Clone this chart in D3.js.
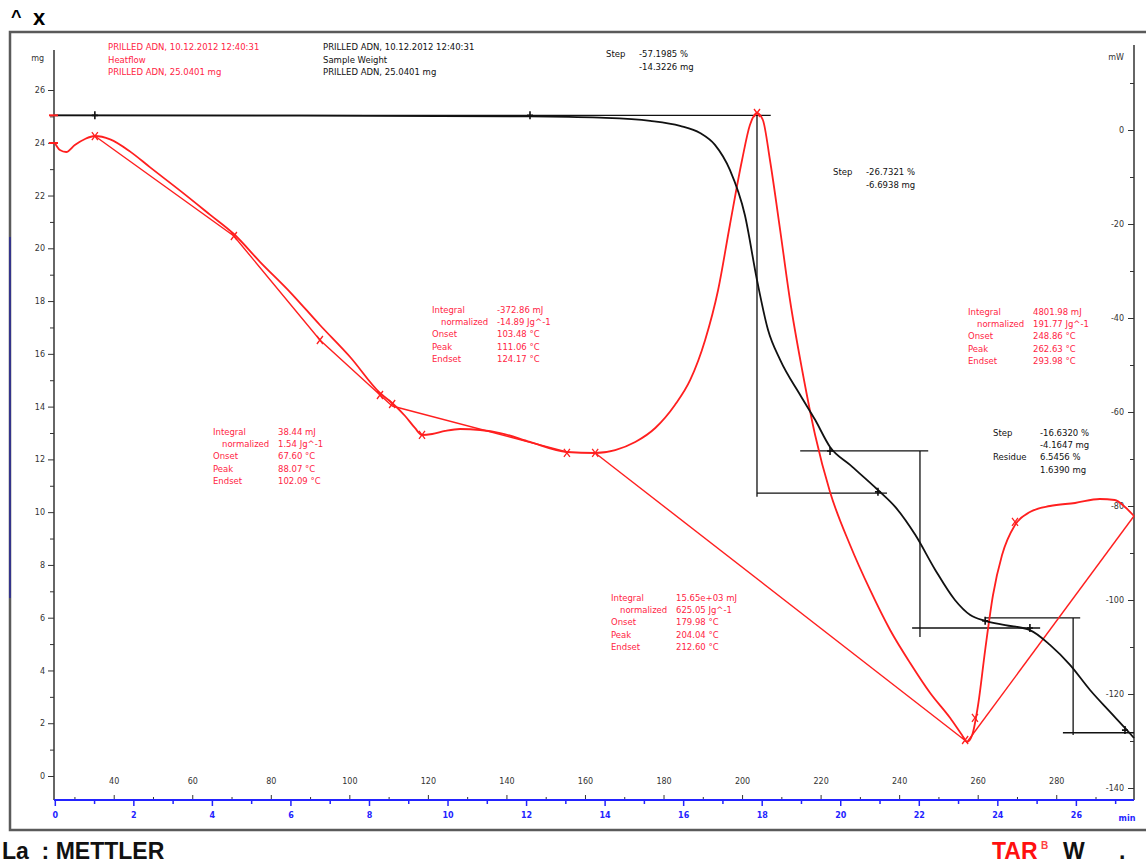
<!DOCTYPE html>
<html>
<head>
<meta charset="utf-8">
<script src="https://cdn.jsdelivr.net/npm/d3@7"></script>
<style>
body { margin: 0; background: #fff; }
text { font-family: "DejaVu Sans", Verdana, sans-serif; }
</style>
</head>
<body>
<svg id="grafico" width="1146" height="865"></svg>
<script>
// curva TGA (Sample Weight) - tempo em min, massa em mg
const tgaTempo = [0, 6.24, 12.10, 13.88, 15.16, 15.92, 16.43, 16.81, 17.19, 17.57, 17.88, 18.16, 18.47, 18.98, 19.36, 19.74, 20.25, 20.96, 21.40, 21.91, 22.42, 22.92, 23.31, 23.69, 24.20, 24.83, 25.34, 25.85, 26.36, 26.87, 27.25, 27.48];
const tgaMassa = [25.04, 25.03, 25.00, 24.95, 24.83, 24.64, 24.37, 23.92, 22.97, 21.27, 18.80, 16.91, 15.77, 14.44, 13.50, 12.47, 11.79, 10.84, 10.20, 9.14, 7.81, 6.67, 6.10, 5.88, 5.72, 5.53, 4.97, 4.21, 3.26, 2.43, 1.82, 1.44];

// curva DSC (Heatflow) - tempo em min, fluxo em mW
const dscTempo = [0, 0.13, 0.29, 0.51, 0.77, 1.02, 1.41, 1.92, 2.42, 3.19, 3.95, 4.56, 5.23, 5.99, 6.75, 7.52, 8.28, 8.59, 8.92, 9.17, 9.35, 9.61, 9.94, 10.32, 10.83, 11.34, 12.10, 13.04, 13.76, 14.27, 14.78, 15.29, 15.79, 16.18, 16.56, 16.89, 17.19, 17.50, 17.70, 17.88, 18.03, 18.21, 18.47, 18.72, 19.03, 19.36, 19.74, 20.25, 20.76, 21.27, 21.78, 22.29, 22.80, 23.10, 23.23, 23.36, 23.51, 23.69, 23.89, 24.12, 24.45, 24.83, 25.34, 25.98, 26.61, 26.99, 27.25, 27.48];
const dscFluxo = [-2.77, -4.26, -4.68, -3.19, -1.91, -1.28, -2.00, -4.60, -7.90, -12.90, -18.00, -22.13, -28.09, -34.47, -41.49, -48.30, -55.96, -58.09, -60.85, -63.40, -64.89, -64.68, -64.04, -63.62, -63.83, -64.47, -66.38, -68.51, -68.72, -68.09, -66.38, -63.40, -58.51, -53.19, -44.68, -34.04, -20.21, -6.38, 1.06, 3.62, 2.13, -6.38, -21.28, -36.17, -51.06, -64.89, -77.02, -88.30, -97.87, -106.38, -113.40, -119.79, -125.11, -128.72, -130.21, -128.72, -122.34, -110.64, -98.94, -90.43, -84.04, -81.28, -80.00, -79.36, -78.51, -78.72, -80.21, -82.13];

// linhas de base das integrais
const baseTempo = [[1.02, 4.56, 6.75, 8.59], [8.59, 13.04], [13.76, 23.23], [23.23, 27.48]];
const baseFluxo = [[-1.28, -22.55, -44.68, -58.72], [-58.72, -68.51], [-68.72, -130.21], [-130.21, -82.13]];

// marcadores
const marcasDscTempo = [1.02, 4.56, 6.75, 8.28, 8.59, 9.35, 13.04, 13.76, 17.88, 23.18, 23.43, 24.45];
const marcasDscFluxo = [-1.28, -22.55, -44.68, -56.38, -58.30, -64.89, -68.72, -68.72, 3.62, -129.79, -125.10, -83.40];
const marcasTgaTempo = [1.02, 12.10, 19.74, 20.96, 23.69, 24.83, 27.25];
const marcasTgaMassa = [25.04, 25.04, 12.32, 10.77, 5.88, 5.61, 1.74];

// linhas de degrau (t0, m0, t1, m1)
const degraus = [
    [0.05, 25.04, 18.23, 25.04],
    [17.88, 25.04, 17.88, 10.58],
    [17.88, 10.72, 21.19, 10.72],
    [18.98, 12.32, 22.24, 12.32],
    [22.03, 12.32, 22.03, 5.27],
    [21.83, 5.61, 25.09, 5.61],
    [23.69, 5.99, 26.11, 5.99],
    [25.93, 5.99, 25.93, 1.55],
    [25.67, 1.64, 27.48, 1.64]
];

// ticks
const ticksMg = d3.range(0, 27);
const ticksMw = d3.range(10, -141, -10);
const ticksMin = d3.range(0, 28);
const ticksTemp = d3.range(30, 300, 10);

const vermelho = "#ff1f1f", textoVermelho = "#ff2444", preto = "#111", azul = "#2323ff";

var svg = d3.select("#grafico");

var x = d3.scaleLinear().domain([0, 27.48]).range([54.8, 1134]);
var xTemp = d3.scaleLinear().domain([25, 25 + 274.8]).range([54.8, 1134]);
var yMg = d3.scaleLinear().domain([0, 26]).range([776, 90]);
var yMw = d3.scaleLinear().domain([0, -140]).range([130, 788]);

// moldura
svg.append("rect")
    .attr("x", 10).attr("y", 32)
    .attr("width", 1150).attr("height", 798)
    .attr("fill", "none")
    .attr("stroke", "#5a5a5a")
    .attr("stroke-width", 2.5);
svg.append("line")
    .attr("x1", 10).attr("x2", 10).attr("y1", 237).attr("y2", 598)
    .attr("stroke", "#34348a").attr("stroke-width", 2);

// titulo
svg.append("text").attr("x", 11).attr("y", 23).attr("font-size", 18).attr("font-weight", "bold")
    .style("font-family", "Liberation Sans, Arial").text("^");
svg.append("text").attr("x", 33).attr("y", 25).attr("font-size", 22).attr("font-weight", "bold")
    .style("font-family", "Liberation Sans, Arial").text("x");

// eixo esquerdo (mg)
let eixoMg = (tam, fmt) => svg.append("g")
    .attr("transform", "translate(54,0)")
    .call(d3.axisLeft(yMg).tickValues(ticksMg.filter((d) => fmt ? d % 2 == 0 : d % 2 == 1)).tickSize(tam).tickPadding(3)
        .tickFormat((d) => fmt ? d : ""));
eixoMg(4, false);
eixoMg(6, true);
svg.append("line").attr("x1", 54).attr("x2", 54).attr("y1", 50).attr("y2", 800).attr("stroke", "#333").attr("stroke-width", 1.5);
svg.append("text").attr("x", 44).attr("y", 61).attr("text-anchor", "end").attr("font-size", 8).attr("fill", "#333").text("mg");

// eixo direito (mW)
let eixoMw = (tam, fmt) => svg.append("g")
    .attr("transform", "translate(1134,0)")
    .call(d3.axisLeft(yMw).tickValues(ticksMw.filter((d) => fmt ? d % 20 == 0 : d % 20 != 0)).tickSize(tam).tickPadding(4)
        .tickFormat((d) => fmt ? String(d) : ""));
eixoMw(4, false);
eixoMw(6, true);
svg.append("line").attr("x1", 1134).attr("x2", 1134).attr("y1", 45).attr("y2", 800).attr("stroke", "#333").attr("stroke-width", 1.5);
svg.append("text").attr("x", 1124).attr("y", 60).attr("text-anchor", "end").attr("font-size", 8).attr("fill", "#333").text("mW");

// eixo de baixo (min)
let eixoMin = (tam, fmt) => svg.append("g")
    .attr("class", "eixo-min")
    .attr("transform", "translate(0,800)")
    .call(d3.axisBottom(x).tickValues(ticksMin.filter((d) => fmt ? d % 2 == 0 : d % 2 == 1)).tickSize(tam).tickPadding(6)
        .tickFormat((d) => fmt ? d : ""));
eixoMin(4, false);
eixoMin(6, true);
svg.append("text").attr("x", 1127).attr("y", 821).attr("text-anchor", "middle").attr("font-size", 8)
    .attr("font-weight", "bold").attr("fill", azul).text("min");

// temperatura (acima da linha)
let eixoTemp = (tam, fmt) => svg.append("g")
    .attr("transform", "translate(0,800)")
    .call(d3.axisTop(xTemp).tickValues(ticksTemp.filter((d) => fmt ? d % 20 == 0 && d < 290 : d % 20 != 0)).tickSize(tam).tickPadding(11)
        .tickFormat((d) => fmt ? d : ""));
eixoTemp(3, false);
eixoTemp(5, true);

svg.selectAll(".tick text").attr("font-size", 8).attr("fill", "#333").style("font-family", "DejaVu Sans, Verdana");
svg.selectAll(".tick line").attr("stroke", "#333");
svg.selectAll(".domain").remove();
svg.selectAll(".eixo-min .tick line").attr("stroke", azul).attr("stroke-width", 1.5);
svg.selectAll(".eixo-min .tick text").attr("fill", azul).attr("font-weight", "bold");
svg.append("line").attr("x1", 54).attr("x2", 1134).attr("y1", 800).attr("y2", 800).attr("stroke", azul).attr("stroke-width", 1.8);

// linhas de degrau
svg.append("g").selectAll("line")
    .data(degraus)
    .enter().append("line")
    .attr("x1", (d) => x(d[0])).attr("y1", (d) => yMg(d[1]))
    .attr("x2", (d) => x(d[2])).attr("y2", (d) => yMg(d[3]))
    .attr("stroke", preto).attr("stroke-width", 1.3);

// linhas de base DSC
baseTempo.forEach((ts, i) => {
    svg.append("path")
        .datum(ts.map((t, j) => [t, baseFluxo[i][j]]))
        .attr("d", d3.line().x((d) => x(d[0])).y((d) => yMw(d[1])))
        .attr("fill", "none").attr("stroke", vermelho).attr("stroke-width", 1.4);
});

// curva DSC
svg.append("path")
    .datum(dscTempo.map((t, i) => [t, dscFluxo[i]]))
    .attr("d", d3.line().curve(d3.curveMonotoneX).x((d) => x(d[0])).y((d) => yMw(d[1])))
    .attr("fill", "none").attr("stroke", vermelho).attr("stroke-width", 1.8);

// curva TGA
svg.append("path")
    .datum(tgaTempo.map((t, i) => [t, tgaMassa[i]]))
    .attr("d", d3.line().curve(d3.curveMonotoneX).x((d) => x(d[0])).y((d) => yMg(d[1])))
    .attr("fill", "none").attr("stroke", preto).attr("stroke-width", 1.8);

// marcadores
svg.append("g").selectAll("path")
    .data(marcasDscTempo.map((t, i) => [t, marcasDscFluxo[i]]))
    .enter().append("path")
    .attr("transform", (d) => "translate(" + x(d[0]) + "," + yMw(d[1]) + ")")
    .attr("d", "M-3,-4L3,4M-3,4L3,-4")
    .attr("stroke", vermelho).attr("stroke-width", 1.3);
svg.append("g").selectAll("path")
    .data(marcasTgaTempo.map((t, i) => [t, marcasTgaMassa[i]]))
    .enter().append("path")
    .attr("transform", (d) => "translate(" + x(d[0]) + "," + yMg(d[1]) + ")")
    .attr("d", "M0,-4L0,4M-3,0L3,0")
    .attr("stroke", preto).attr("stroke-width", 1.6);
svg.append("g").selectAll("path")
    .data([yMg(25.04), yMw(-2.77)])
    .enter().append("path")
    .attr("d", (d) => "M49," + d + "L58," + d)
    .attr("stroke", vermelho).attr("stroke-width", 2);

// textos
let bloco = (px, py, cor, linhas, col, passo) => {
    let g = svg.append("g").attr("font-size", 8.5).attr("fill", cor);
    linhas.forEach((l, i) => {
        let recuo = l[0] == "normalized" ? 9 : 0;
        g.append("text").attr("x", px + recuo).attr("y", py + i * passo).text(l[0]);
        if (l[1]) g.append("text").attr("x", px + col).attr("y", py + i * passo).text(l[1]);
    });
};

bloco(108, 50, textoVermelho, [["PRILLED ADN, 10.12.2012 12:40:31"], ["Heatflow"], ["PRILLED ADN, 25.0401 mg"]], 0, 12.5);
bloco(323, 50, preto, [["PRILLED ADN, 10.12.2012 12:40:31"], ["Sample Weight"], ["PRILLED ADN, 25.0401 mg"]], 0, 12.5);
bloco(606, 57, preto, [["Step", "-57.1985 %"], ["", "-14.3226 mg"]], 33, 12.5);
bloco(833, 175, preto, [["Step", "-26.7321 %"], ["", "-6.6938 mg"]], 33, 12.5);

let integral = (px, py, v) => bloco(px, py, textoVermelho,
    [["Integral", v[0]], ["normalized", v[1]], ["Onset", v[2]], ["Peak", v[3]], ["Endset", v[4]]], 65, 12.2);
integral(432, 313, ["-372.86 mJ", "-14.89 Jg^-1", "103.48 °C", "111.06 °C", "124.17 °C"]);
integral(213, 435, ["38.44 mJ", "1.54 Jg^-1", "67.60 °C", "88.07 °C", "102.09 °C"]);
integral(968, 315, ["4801.98 mJ", "191.77 Jg^-1", "248.86 °C", "262.63 °C", "293.98 °C"]);
integral(611, 601, ["15.65e+03 mJ", "625.05 Jg^-1", "179.98 °C", "204.04 °C", "212.60 °C"]);

bloco(993, 436, preto, [["Step", "-16.6320 %"], ["", "-4.1647 mg"], ["Residue", "6.5456 %"], ["", "1.6390 mg"]], 47, 12.2);

// rodape
let rodape = (px, py, tam, cor, txt) => svg.append("text")
    .attr("x", px).attr("y", py).attr("font-size", tam).attr("font-weight", "bold")
    .style("font-family", "Liberation Sans, Arial").style("white-space", "pre")
    .attr("fill", cor).text(txt);
rodape(2, 859, 23, "#111", "La  : METTLER");
rodape(992, 859, 23, "#ff1010", "TAR");
rodape(1041, 849, 10, "#ff4040", "B");
rodape(1063, 859, 23, "#111", "W");
rodape(1119, 859, 23, "#111", ".");
</script>
</body>
</html>
